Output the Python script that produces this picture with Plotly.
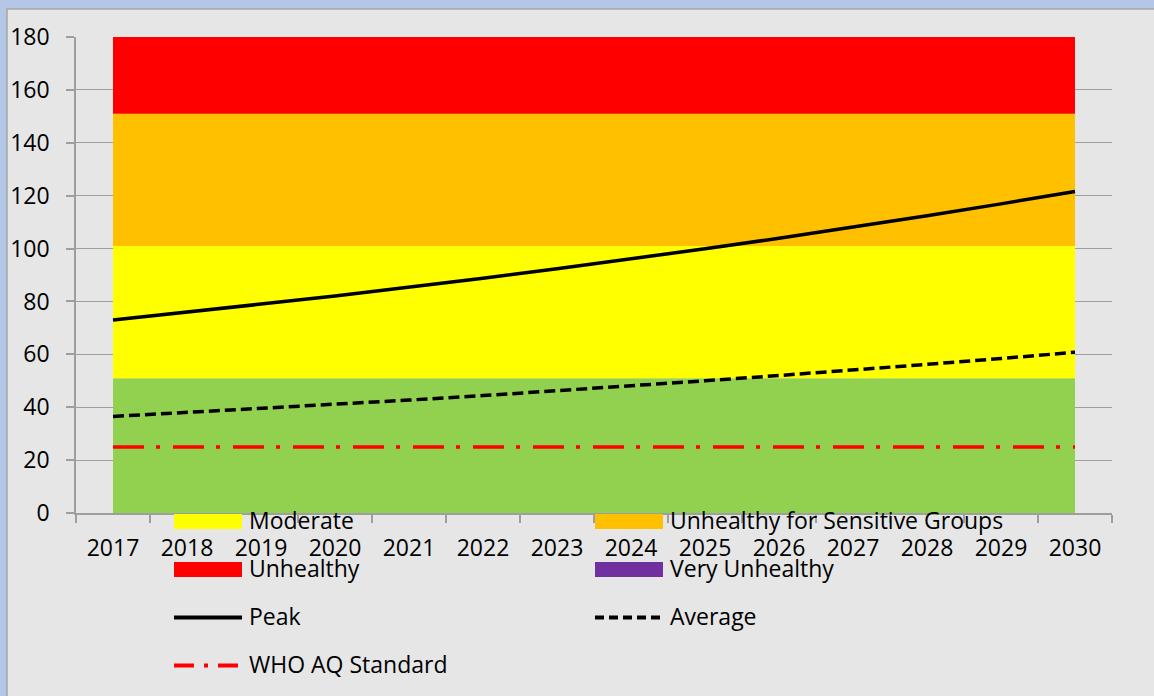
import plotly.graph_objects as go

# ---- data ----
years = [str(y) for y in range(2017, 2031)]
good = [51] * 14
moderate = [50] * 14
usg = [50] * 14
unhealthy = [50] * 14
very_unhealthy = [100] * 14
peak = [73.0, 75.9, 79.0, 82.1, 85.4, 88.8, 92.4, 96.1, 99.9, 103.9, 108.1, 112.4, 116.9, 121.6]
average = [36.5, 38.0, 39.5, 41.0, 42.7, 44.4, 46.2, 48.0, 50.0, 52.0, 54.0, 56.2, 58.4, 60.8]
who_std = [25] * 14

W, H = 1154, 696
ML, MR, MT, MB = 76, 42, 37, 183
PW, PH = W - ML - MR, H - MT - MB


def px(x):
    return (x - ML) / PW


def py(y):
    return (H - MB - y) / PH


FONT = "Open Sans"
FS = 23
GRAY = "#9E9E9E"

fig = go.Figure()
bands = [
    ("Good", good, "#92D050"),
    ("Moderate", moderate, "#FFFF00"),
    ("Unhealthy for Sensitive Groups", usg, "#FFC000"),
    ("Unhealthy", unhealthy, "#FF0000"),
    ("Very Unhealthy", very_unhealthy, "#7030A0"),
]
for name, vals, col in bands:
    fig.add_trace(go.Scatter(x=years, y=vals, name=name, stackgroup="bands",
                             mode="lines", line=dict(width=0, color=col),
                             fillcolor=col, showlegend=False, hoverinfo="skip"))

fig.add_trace(go.Scatter(x=years, y=peak, name="Peak", mode="lines",
                         line=dict(color="black", width=3.5), showlegend=False))
fig.add_trace(go.Scatter(x=years, y=average, name="Average", mode="lines",
                         line=dict(color="black", width=3.5, dash="11px,5px"), showlegend=False))
fig.add_trace(go.Scatter(x=years, y=who_std, name="WHO AQ Standard", mode="lines",
                         line=dict(color="#FF0000", width=3.5, dash="31px,12px,4px,13px"),
                         showlegend=False))

shapes = []
# chart area background with border
shapes.append(dict(type="rect", xref="paper", yref="paper", layer="below",
                   x0=px(7), x1=px(1170), y0=py(9), y1=py(710),
                   fillcolor="#E6E6E6", line=dict(color="#A6A6A6", width=1.5)))

# manual legend
legend_items = [
    ("Moderate", "rect", "#FFFF00", None, 174, 521.5),
    ("Unhealthy for Sensitive Groups", "rect", "#FFC000", None, 595, 521.5),
    ("Unhealthy", "rect", "#FF0000", None, 174, 569.5),
    ("Very Unhealthy", "rect", "#7030A0", None, 595, 569.5),
    ("Peak", "line", "black", "solid", 174, 617.5),
    ("Average", "line", "black", "9px,5px", 595, 617.5),
    ("WHO AQ Standard", "line", "#FF0000", "20px,10px,4px,10px", 174, 665.5),
]
annotations = []
for label, kind, col, dash, x0, yc in legend_items:
    if kind == "rect":
        shapes.append(dict(type="rect", xref="paper", yref="paper", layer="above",
                           x0=px(x0), x1=px(x0 + 68), y0=py(yc - 7.5), y1=py(yc + 7.5),
                           fillcolor=col, line=dict(width=0)))
    else:
        shapes.append(dict(type="line", xref="paper", yref="paper", layer="above",
                           x0=px(x0), x1=px(x0 + 68), y0=py(yc), y1=py(yc),
                           line=dict(color=col, width=4, dash=dash)))
    annotations.append(dict(text=label, xref="paper", yref="paper", showarrow=False,
                            x=px(x0 + 73), y=py(yc - 2), xanchor="left", yanchor="middle",
                            font=dict(family=FONT, size=FS, color="black")))

fig.update_layout(
    width=W, height=H,
    margin=dict(l=ML, r=MR, t=MT, b=MB, autoexpand=False),
    paper_bgcolor="#B4C7E7",
    plot_bgcolor="rgba(0,0,0,0)",
    font=dict(family=FONT, size=FS, color="black"),
    shapes=shapes,
    annotations=annotations,
    xaxis=dict(type="category", tickson="boundaries", ticks="outside", ticklen=8,
               tickcolor=GRAY, tickwidth=1.5, showline=True, linecolor=GRAY, linewidth=1.5,
               showgrid=False, ticklabelstandoff=14, range=[-0.5, 13.5], automargin=False,
               tickfont=dict(family=FONT, size=FS, color="black")),
    yaxis=dict(range=[0, 180], dtick=20, ticks="outside", ticklen=8, tickcolor=GRAY,
               tickwidth=1.5, showline=True, linecolor=GRAY, linewidth=1.5,
               showgrid=True, gridcolor=GRAY, gridwidth=1.2, zeroline=False, automargin=False,
               ticklabelstandoff=12, tickfont=dict(family=FONT, size=FS, color="black")),
)

fig.write_html("out.html")
